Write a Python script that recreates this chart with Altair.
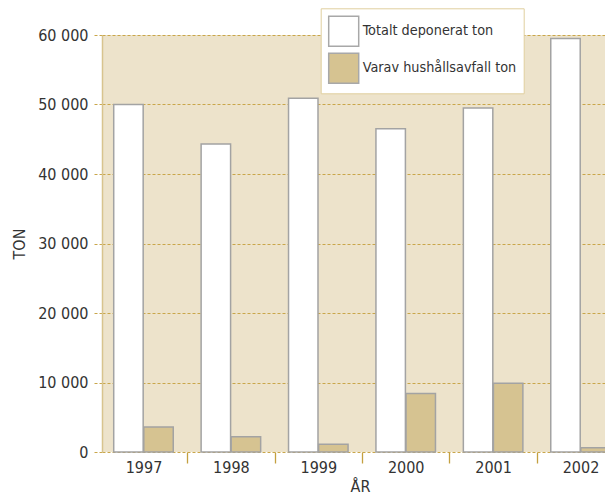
import altair as alt
import pandas as pd

years = ["1997", "1998", "1999", "2000", "2001", "2002"]
total = [50000, 44300, 50900, 46500, 49500, 59500]
household = [3600, 2200, 1100, 8400, 9900, 600]
series = ["Totalt deponerat ton", "Varav hushållsavfall ton"]
series_colors = ["#ffffff", "#d6c391"]
y_ticks = [0, 10000, 20000, 30000, 40000, 50000, 60000]

rows = []
for i, yr in enumerate(years):
    rows.append({"year": yr, "series": series[0], "value": total[i]})
    rows.append({"year": yr, "series": series[1], "value": household[i]})
df = pd.DataFrame(rows)

FONT = "DejaVu Sans Condensed"
GOLD = "#c9a64a"
TXT = "#333333"

chart = alt.Chart(df).mark_bar(stroke="#a3a3a3", strokeWidth=1.5).encode(
    x=alt.X(
        "year:N", sort=years, title="ÅR",
        scale=alt.Scale(paddingInner=0.319, paddingOuter=0.134, range=[0, 520]),
        axis=alt.Axis(
            labelAngle=0, domain=False, tickSize=11,
            tickOffset=43.7, labelOffset=-43.7,
            tickColor="#c4a040", tickWidth=1.3, labelPadding=-4, labelFontSize=16,
            labelColor=TXT, titleFontSize=16, titleFontWeight="normal",
            titleColor=TXT, titlePadding=3, titleX=258, grid=False,
        ),
    ),
    xOffset=alt.XOffset("series:N", sort=series, scale=alt.Scale(paddingInner=0.02, paddingOuter=0)),
    y=alt.Y(
        "value:Q", title="TON",
        scale=alt.Scale(domain=[0, 60000], nice=False),
        axis=alt.Axis(
            values=y_ticks,
            labelExpr="replace(format(datum.value, ',d'), ',', ' ')",
            domain=True, domainColor="#d8c48e", domainWidth=1.5,
            tickSize=9, tickColor=GOLD, tickDash=[3, 2], tickWidth=1,
            grid=True, gridColor=GOLD, gridDash=[3, 2], gridWidth=1,
            labelPadding=5, labelFontSize=16, labelColor=TXT,
            titleFontSize=16, titleFontWeight="normal", titleColor=TXT,
            titlePadding=10,
        ),
    ),
    color=alt.Color(
        "series:N",
        scale=alt.Scale(domain=series, range=series_colors),
        legend=alt.Legend(
            title=None, orient="none", legendX=218.7, legendY=-26.7,
            fillColor="#ffffff", strokeColor="#e0cf9f", padding=7,
            rowPadding=1, symbolType="square", symbolSize=900,
            symbolStrokeColor="#a8a8a8", symbolStrokeWidth=1.5,
            labelOffset=3, labelFontSize=14.3, labelColor=TXT, labelLimit=400,
        ),
    ),
).properties(
    width=503, height=417,
    autosize=alt.AutoSizeParams(type="none"),
    padding={"left": 94, "top": 27, "right": 0, "bottom": 48},
).configure(
    font=FONT, background="#ffffff",
).configure_view(
    fill="#ede3cb", stroke=None,
)

chart.save("out.html", embed_options={"renderer": "svg", "actions": False})
